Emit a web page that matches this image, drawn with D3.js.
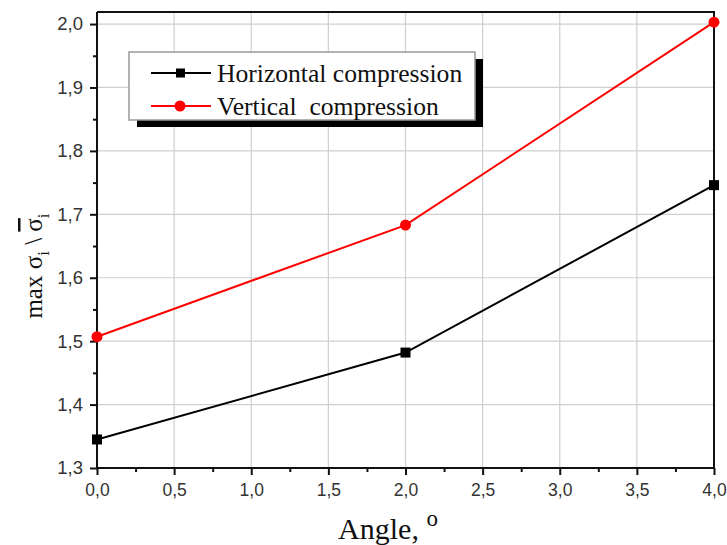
<!DOCTYPE html>
<html><head><meta charset="utf-8">
<script src="https://cdn.jsdelivr.net/npm/d3@7"></script>
<style>body{margin:0;background:#fff}svg{display:block}</style>
</head><body>
<svg id="c" width="727" height="545"></svg>
<script>
const angles = [0, 2, 4];
const horizontal = [1.345, 1.482, 1.746];
const vertical = [1.507, 1.683, 2.003];
const seriesNames = ["Horizontal compression", "Vertical  compression"];
const xTicks = [0, 0.5, 1, 1.5, 2, 2.5, 3, 3.5, 4];
const yTicks = [1.3, 1.4, 1.5, 1.6, 1.7, 1.8, 1.9, 2.0];

const svg = d3.select("#c");
const L = 97, R = 714, T = 12, B = 468;
const x = d3.scaleLinear().domain([0, 4]).range([L, R]);
const y = d3.scaleLinear().domain([1.3, 2.019]).range([B, T]);
const fmt = d => d.toFixed(1).replace(".", ",");

// grid
svg.append("g").selectAll("line").data(xTicks.slice(1, -1)).join("line")
  .attr("x1", d => x(d)).attr("x2", d => x(d)).attr("y1", T).attr("y2", B)
  .attr("stroke", "#cfcfcf").attr("stroke-width", 1.2);
svg.append("g").selectAll("line").data(yTicks.slice(1)).join("line")
  .attr("x1", L).attr("x2", R).attr("y1", d => y(d)).attr("y2", d => y(d))
  .attr("stroke", "#cfcfcf").attr("stroke-width", 1.2);

// frame top/right
svg.append("path").attr("d", `M${L},${T}H${R}V${B}`).attr("fill", "none")
  .attr("stroke", "#111").attr("stroke-width", 2);

// axes
const xMinor = d3.range(0.25, 4, 0.5);
const yMinor = d3.range(1.35, 2.0, 0.1);
const xAxis = svg.append("g").attr("transform", `translate(0,${B})`)
  .call(d3.axisBottom(x).tickValues(xTicks).tickFormat(fmt).tickSize(7).tickPadding(9));
svg.append("g").attr("transform", `translate(0,${B})`)
  .call(d3.axisBottom(x).tickValues(xMinor).tickFormat("").tickSize(4))
  .call(g => g.select(".domain").remove());
const yAxis = svg.append("g").attr("transform", `translate(${L},0)`)
  .call(d3.axisLeft(y).tickValues(yTicks).tickFormat(fmt).tickSize(7).tickPadding(7));
svg.append("g").attr("transform", `translate(${L},0)`)
  .call(d3.axisLeft(y).tickValues(yMinor).tickFormat("").tickSize(4))
  .call(g => g.select(".domain").remove());
svg.selectAll(".domain").attr("stroke", "#111").attr("stroke-width", 2);
svg.selectAll(".tick line").attr("stroke", "#111").attr("stroke-width", 2);
xAxis.selectAll(".tick text").attr("font-size", 17.5);
yAxis.selectAll(".tick text").attr("font-size", 18.5);
svg.selectAll(".tick text").attr("font-family", "Liberation Sans, Arial, sans-serif").attr("fill", "#333");
yAxis.select(".domain").attr("d", `M-0,${B}V${T}`);
xAxis.select(".domain").attr("d", `M${L},0H${R}`);

// lines
const line = d3.line().x(d => x(d[0])).y(d => y(d[1]));
const hData = angles.map((a, i) => [a, horizontal[i]]);
const vData = angles.map((a, i) => [a, vertical[i]]);
svg.append("path").datum(hData).attr("d", line).attr("fill", "none").attr("stroke", "#000").attr("stroke-width", 2);
svg.append("path").datum(vData).attr("d", line).attr("fill", "none").attr("stroke", "#ff0000").attr("stroke-width", 2);
svg.append("g").selectAll("rect").data(hData).join("rect")
  .attr("x", d => x(d[0]) - 5).attr("y", d => y(d[1]) - 5).attr("width", 10).attr("height", 10).attr("fill", "#000");
svg.append("g").selectAll("circle").data(vData).join("circle")
  .attr("cx", d => x(d[0])).attr("cy", d => y(d[1])).attr("r", 5.5).attr("fill", "#ff0000");

// legend
const lg = svg.append("g");
lg.append("rect").attr("x", 137).attr("y", 59).attr("width", 346).attr("height", 68).attr("fill", "#000");
lg.append("rect").attr("x", 129).attr("y", 52).attr("width", 346).attr("height", 68)
  .attr("fill", "#fff").attr("stroke", "#999").attr("stroke-width", 1.5);
const rows = [{c: "#000", y: 73, m: "sq"}, {c: "#ff0000", y: 106, m: "ci"}];
rows.forEach((r, i) => {
  lg.append("line").attr("x1", 151).attr("x2", 211).attr("y1", r.y).attr("y2", r.y).attr("stroke", r.c).attr("stroke-width", 2);
  if (r.m === "sq") lg.append("rect").attr("x", 176).attr("y", r.y - 4.5).attr("width", 9).attr("height", 9).attr("fill", r.c);
  else lg.append("circle").attr("cx", 180).attr("cy", r.y).attr("r", 5.5).attr("fill", r.c);
  lg.append("text").attr("x", 217).attr("y", r.y + 8.5).attr("font-family", "Liberation Serif, Times New Roman, serif")
    .attr("font-size", 25.6).attr("fill", "#111").attr("xml:space", "preserve").style("white-space", "pre").text(seriesNames[i]);
});

// y label
const yl = svg.append("text").attr("transform", "translate(42,266) rotate(-90)")
  .attr("text-anchor", "middle").attr("font-family", "Liberation Serif, Times New Roman, serif")
  .attr("font-size", 25).attr("fill", "#111");
yl.append("tspan").text("max σ");
yl.append("tspan").attr("font-size", 17).attr("dy", 7).text("i");
yl.append("tspan").attr("dy", -7).text(" \\ ");
yl.append("tspan").attr("text-decoration", "overline").style("text-decoration", "overline").text("σ");
yl.append("tspan").attr("font-size", 17).attr("dy", 7).text("i");

// x label
const xl = svg.append("text").attr("x", 388).attr("y", 539).attr("text-anchor", "middle")
  .attr("font-family", "Liberation Serif, Times New Roman, serif").attr("font-size", 30).attr("fill", "#111");
xl.append("tspan").text("Angle, ");
xl.append("tspan").attr("font-size", 23).attr("dy", -13).text("o");
</script>
</body></html>
